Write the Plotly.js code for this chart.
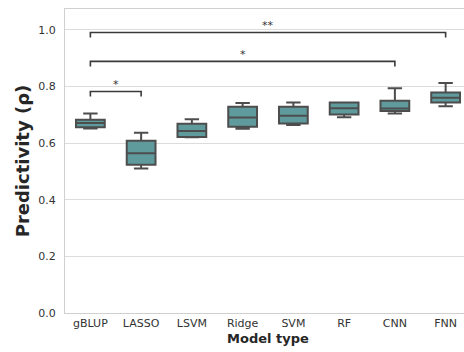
<!DOCTYPE html>
<html>
<head>
<meta charset="utf-8">
<script src="https://cdn.plot.ly/plotly-3.0.1.min.js"></script>
<style>
  html, body { margin: 0; padding: 0; overflow: hidden; background: #fff; }
  #chart { width: 480px; height: 352px; }
</style>
</head>
<body>
<div id="chart"></div>
<script>
// Model types on the x axis
const models = ["gBLUP", "LASSO", "LSVM", "Ridge", "SVM", "RF", "CNN", "FNN"];

// Box summary statistics for predictivity (rho)
const lowerWhisker = [0.651, 0.510, 0.620, 0.650, 0.664, 0.691, 0.704, 0.730];
const q1Values     = [0.656, 0.523, 0.621, 0.657, 0.669, 0.701, 0.713, 0.743];
const medians      = [0.671, 0.564, 0.642, 0.690, 0.696, 0.723, 0.722, 0.760];
const q3Values     = [0.682, 0.608, 0.668, 0.728, 0.728, 0.743, 0.749, 0.778];
const upperWhisker = [0.704, 0.636, 0.684, 0.741, 0.743, 0.743, 0.793, 0.812];

// Significance brackets: compared pairs, bracket height and star label
const bracketFrom  = ["gBLUP", "gBLUP", "gBLUP"];
const bracketTo    = ["LASSO", "CNN", "FNN"];
const bracketLevel = [0.782, 0.888, 0.990];
const bracketText  = ["*", "*", "**"];

const yTicks = [0.0, 0.2, 0.4, 0.6, 0.8, 1.0];

const font = "DejaVu Sans, sans-serif";
const boxLine = "#4d4d4d";

const trace = {
  type: "box",
  x: models,
  q1: q1Values,
  median: medians,
  q3: q3Values,
  lowerfence: lowerWhisker,
  upperfence: upperWhisker,
  fillcolor: "#5f9b9c",
  line: { color: boxLine, width: 2 },
  whiskerwidth: 0.5,
  boxpoints: false,
  hoverinfo: "skip",
  showlegend: false
};

// Bracket shapes and star annotations built from the bracket arrays
const shapes = [];
const annotations = [];
const tickDrop = 0.018;
for (let i = 0; i < bracketFrom.length; i++) {
  const x0 = models.indexOf(bracketFrom[i]);
  const x1 = models.indexOf(bracketTo[i]);
  const h = bracketLevel[i];
  shapes.push({
    type: "path",
    xref: "x", yref: "y",
    path: `M ${x0} ${h - tickDrop} L ${x0} ${h} L ${x1} ${h} L ${x1} ${h - tickDrop}`,
    line: { color: "#3a3a3a", width: 1.6 }
  });
  annotations.push({
    xref: "x", yref: "y",
    x: (x0 + x1) / 2, y: h - 0.005,
    text: bracketText[i],
    showarrow: false,
    yanchor: "bottom",
    font: { family: font, size: 11, color: "#333" }
  });
}

const layout = {
  width: 480,
  height: 352,
  margin: { l: 65, r: 9, t: 9, b: 39 },
  paper_bgcolor: "#fff",
  plot_bgcolor: "#fff",
  boxgap: 0.19,
  xaxis: {
    type: "category",
    range: [-0.5, 7.5],
    showgrid: false,
    zeroline: false,
    showline: true,
    mirror: true,
    linecolor: "#d0d0d0",
    linewidth: 1,
    ticks: "",
    tickfont: { family: font, size: 11, color: "#333" },
    title: { text: "<b>Model type</b>", font: { family: font, size: 13, color: "#262626" }, standoff: 4 }
  },
  yaxis: {
    range: [0, 1.073],
    tickvals: yTicks,
    ticktext: yTicks.map(v => v.toFixed(1)),
    showgrid: true,
    gridcolor: "#dcdcdc",
    gridwidth: 1,
    zeroline: false,
    showline: true,
    mirror: true,
    linecolor: "#d0d0d0",
    linewidth: 1,
    ticks: "",
    ticklabelstandoff: 6,
    tickfont: { family: font, size: 11, color: "#333" },
    title: { text: "<b>Predictivity (ρ)</b>", font: { family: font, size: 18, color: "#262626" }, standoff: 3 }
  },
  shapes: shapes,
  annotations: annotations
};

Plotly.newPlot("chart", [trace], layout, { staticPlot: true, displayModeBar: false });
</script>
</body>
</html>
